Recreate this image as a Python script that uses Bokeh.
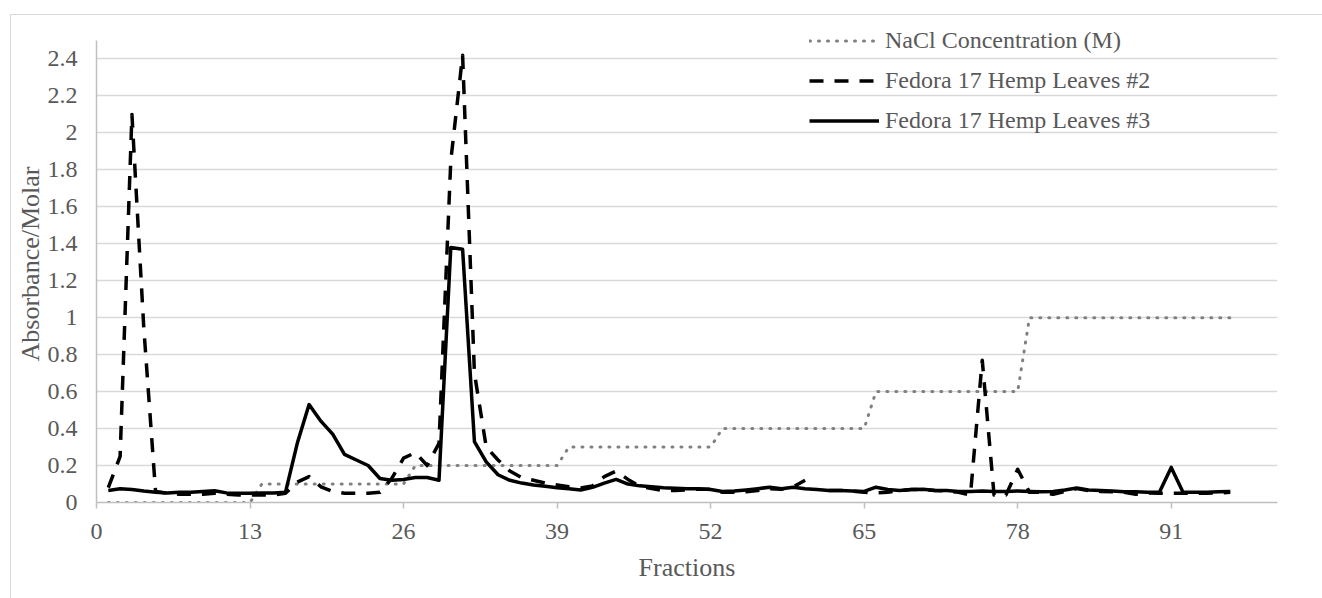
from bokeh.plotting import figure
from bokeh.models import FixedTicker, Legend, LegendItem, Range1d
from bokeh.layouts import column
from bokeh.embed import file_html
from bokeh.resources import INLINE

nan = float("nan")

fractions = list(range(1, 97))

nacl = [0, 0, 0, 0, 0, 0, 0, 0, 0, 0, 0, 0, 0,
        0.1, 0.1, 0.1, 0.1, 0.1, 0.1, 0.1, 0.1, 0.1, 0.1, 0.1, 0.1, 0.1,
        0.2, 0.2, 0.2, 0.2, 0.2, 0.2, 0.2, 0.2, 0.2, 0.2, 0.2, 0.2, 0.2,
        0.3, 0.3, 0.3, 0.3, 0.3, 0.3, 0.3, 0.3, 0.3, 0.3, 0.3, 0.3, 0.3,
        0.4, 0.4, 0.4, 0.4, 0.4, 0.4, 0.4, 0.4, 0.4, 0.4, 0.4, 0.4, 0.4,
        0.6, 0.6, 0.6, 0.6, 0.6, 0.6, 0.6, 0.6, 0.6, 0.6, 0.6, 0.6, 0.6,
        1.0, 1.0, 1.0, 1.0, 1.0, 1.0, 1.0, 1.0, 1.0, 1.0, 1.0, 1.0, 1.0,
        1.0, 1.0, 1.0, 1.0, 1.0]

leaves2 = [0.08, 0.25, 2.1, 0.95, 0.06, 0.05, 0.045, 0.045, 0.045, 0.05,
           0.045, 0.04, 0.04, 0.04, 0.04, 0.05, 0.11, 0.14, 0.085, 0.06,
           0.05, 0.05, 0.05, 0.055, 0.13, 0.24, 0.27, 0.2, 0.32, 1.85,
           2.42, 0.7, 0.3, 0.23, 0.17, 0.135, 0.12, 0.105, 0.095, 0.085,
           0.078, 0.09, 0.14, 0.17, 0.125, 0.088, 0.075, 0.065, 0.065, 0.068,
           0.072, 0.072, 0.055, 0.055, 0.058, 0.065, 0.075, 0.072, 0.085, 0.12,
           nan, 0.065, 0.065, 0.062, 0.055, 0.052, 0.055, 0.065, 0.07, 0.07,
           0.065, 0.062, 0.055, 0.04, 0.77, 0.04, 0.04, 0.18, 0.055, 0.055,
           0.045, 0.06, 0.075, 0.065, 0.06, 0.058, 0.055, 0.045, 0.052, 0.05,
           0.05, 0.05, 0.05, 0.05, 0.052, 0.055]

leaves3 = [0.065, 0.074, 0.07, 0.062, 0.056, 0.052, 0.055, 0.055, 0.06, 0.064,
           0.052, 0.05, 0.05, 0.052, 0.052, 0.055, 0.32, 0.53, 0.44, 0.37,
           0.26, 0.23, 0.2, 0.13, 0.12, 0.125, 0.135, 0.135, 0.12, 1.38,
           1.37, 0.33, 0.22, 0.15, 0.12, 0.105, 0.095, 0.088, 0.08, 0.075,
           0.068, 0.082, 0.105, 0.125, 0.1, 0.09, 0.085, 0.08, 0.077, 0.075,
           0.074, 0.07, 0.06, 0.062, 0.068, 0.075, 0.083, 0.074, 0.083, 0.075,
           0.07, 0.065, 0.065, 0.062, 0.06, 0.083, 0.07, 0.065, 0.07, 0.072,
           0.065, 0.065, 0.06, 0.06, 0.062, 0.06, 0.06, 0.062, 0.06, 0.058,
           0.06, 0.068, 0.078, 0.068, 0.065, 0.062, 0.058, 0.058, 0.055, 0.055,
           0.19, 0.055, 0.055, 0.055, 0.058, 0.06]

x_ticks = [0, 13, 26, 39, 52, 65, 78, 91]
y_ticks = [0, 0.2, 0.4, 0.6, 0.8, 1, 1.2, 1.4, 1.6, 1.8, 2, 2.2, 2.4]
y_labels = ["0", "0.2", "0.4", "0.6", "0.8", "1", "1.2", "1.4", "1.6", "1.8", "2", "2.2", "2.4"]
y_axis_max = 2.5

series_names = ["NaCl Concentration (M)", "Fedora 17 Hemp Leaves #2", "Fedora 17 Hemp Leaves #3"]

FONT = "Liberation Serif"
TXT = "#595959"

# frame extends a little above the axis maximum so the legend (which sits
# partly above the value axis' top) is not clipped
p = figure(width=1311, height=583, x_range=Range1d(0, 100), y_range=Range1d(0, 2.581),
           output_backend="svg", toolbar_location=None,
           min_border_left=85, min_border_right=45, min_border_top=10, min_border_bottom=96)

p.outline_line_color = None
p.background_fill_color = "white"
p.border_fill_color = "white"

p.xgrid.visible = False
p.ygrid.grid_line_color = "#d9d9d9"
p.ygrid.grid_line_width = 1.5
p.ygrid.ticker = FixedTicker(ticks=y_ticks)

p.xaxis.ticker = FixedTicker(ticks=x_ticks)
p.yaxis.ticker = FixedTicker(ticks=y_ticks)
p.yaxis.major_label_overrides = dict(zip(y_ticks, y_labels))
p.yaxis.bounds = (0, y_axis_max)

for ax in (p.xaxis, p.yaxis):
    ax.axis_line_color = "#bfbfbf"
    ax.axis_line_width = 1.5
    ax.major_label_text_font = FONT
    ax.major_label_text_font_size = "24px"
    ax.major_label_text_color = TXT
    ax.axis_label_text_font = FONT
    ax.axis_label_text_font_size = "26px"
    ax.axis_label_text_color = TXT
    ax.axis_label_text_font_style = "normal"
    ax.minor_tick_line_color = None

p.xaxis.axis_label = "Fractions"
p.xaxis.major_tick_out = 6
p.xaxis.major_tick_in = 0
p.xaxis.major_tick_line_color = "#bfbfbf"
p.xaxis.major_tick_line_width = 1.5
p.xaxis.major_label_standoff = 15
p.xaxis.axis_label_standoff = 11

p.yaxis.axis_label = "Absorbance/Molar"
p.yaxis.major_tick_line_color = None
p.yaxis.major_tick_out = 0
p.yaxis.major_tick_in = 0
p.yaxis.major_label_standoff = 19
p.yaxis.axis_label_standoff = 0

r1 = p.line(fractions, nacl, line_color="#808080", line_width=3, line_dash="1 8", line_cap="round")
r2 = p.line(fractions, leaves2, line_color="black", line_width=3.5, line_dash="14 11", line_join="round")
r3 = p.line(fractions, leaves3, line_color="black", line_width=3.5, line_join="round")

legend = Legend(items=[LegendItem(label=series_names[0], renderers=[r1]),
                       LegendItem(label=series_names[1], renderers=[r2]),
                       LegendItem(label=series_names[2], renderers=[r3])],
                location=(713, 368), orientation="vertical",
                glyph_width=70, glyph_height=27, label_height=27, spacing=13,
                label_standoff=6, padding=0, margin=0,
                label_text_font=FONT, label_text_font_size="24px", label_text_color=TXT,
                border_line_color=None, background_fill_alpha=0)
p.add_layout(legend)

layout = column(p, margin=(14, 0, 0, 10),
                styles={"border-left": "1px solid #d9d9d9", "border-top": "1px solid #d9d9d9"})

open("out.html", "w").write(file_html(layout, INLINE))
